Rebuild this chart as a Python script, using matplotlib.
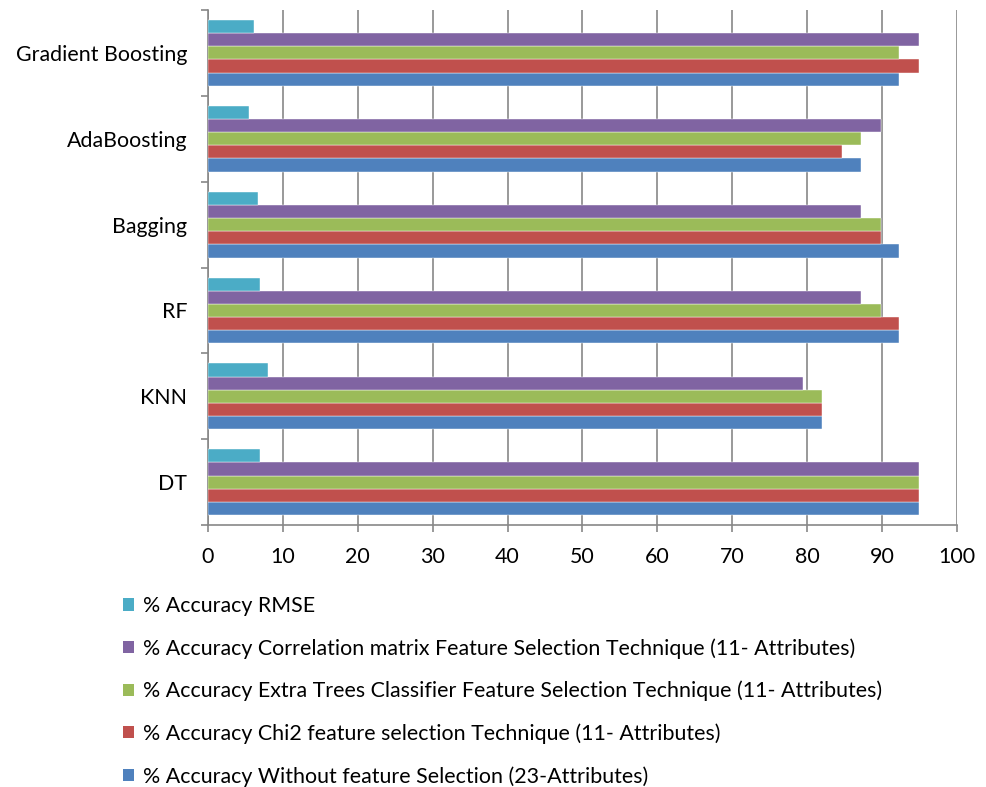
import numpy as np
import matplotlib.pyplot as plt
from matplotlib.patches import Patch

plt.rcParams['font.family'] = ['Lato', 'DejaVu Sans']

# ------------------------------
# Data
# ------------------------------
models = ['DT', 'KNN', 'RF', 'Bagging', 'AdaBoosting', 'Gradient Boosting']

acc_without = [94.9, 82.0, 92.3, 92.3, 87.2, 92.3]
acc_chi2 = [94.9, 82.0, 92.3, 89.8, 84.7, 94.9]
acc_extra_trees = [94.9, 82.0, 89.8, 89.8, 87.2, 92.3]
acc_corr = [94.9, 79.5, 87.2, 87.2, 89.8, 94.9]
rmse = [6.9, 8.0, 7.0, 6.7, 5.5, 6.1]

series_labels = [
    '% Accuracy Without feature Selection (23-Attributes)',
    '% Accuracy Chi2 feature selection Technique (11- Attributes)',
    '% Accuracy Extra Trees Classifier Feature Selection Technique (11- Attributes)',
    '% Accuracy Correlation matrix Feature Selection Technique (11- Attributes)',
    '% Accuracy RMSE',
]
colors = ['#4F81BD', '#C0504D', '#9BBB59', '#8064A2', '#4BACC6']

# ------------------------------
# Plot
# ------------------------------
fs = 15.4
fig = plt.figure(figsize=(9.87, 7.87), dpi=100)
ax = fig.add_axes([0.2107, 0.3329, 0.7589, 0.6544])

all_series = [acc_without, acc_chi2, acc_extra_trees, acc_corr, rmse]
n = len(all_series)
bar_h = 0.767 / n
y = np.arange(len(models))

for i, (vals, col) in enumerate(zip(all_series, colors)):
    offs = (i - (n - 1) / 2) * bar_h
    ax.barh(y + offs, vals, height=bar_h, color=col, zorder=3,
            edgecolor='white', linewidth=0.3)

grid_col = '#878787'
ax.set_xlim(0, 100)
ax.set_ylim(-0.5, len(models) - 0.5)
ax.set_xticks(np.arange(0, 101, 10))
ax.xaxis.grid(True, color=grid_col, linewidth=1.2, zorder=0)

# category labels centred on groups, tick marks on group borders
ax.set_yticks(np.arange(-0.5, len(models), 1.0))
ax.set_yticklabels([])
ax.set_yticks(y, minor=True)
ax.set_yticklabels(models, minor=True)
ax.tick_params(axis='y', which='minor', length=0, pad=15, labelsize=fs)
ax.tick_params(axis='y', which='major', length=5, width=1.2, color=grid_col)
ax.tick_params(axis='x', length=5, width=1.2, color=grid_col, labelsize=fs, pad=11)

for side in ['top', 'right']:
    ax.spines[side].set_visible(False)
for side in ['left', 'bottom']:
    ax.spines[side].set_color(grid_col)
    ax.spines[side].set_linewidth(1.2)

# legend, RMSE on top
handles = [Patch(facecolor=c) for c in colors[::-1]]
fig.legend(handles, series_labels[::-1], loc='upper left',
           bbox_to_anchor=(0.116, 0.2535), frameon=False, fontsize=fs,
           handlelength=0.5, handleheight=0.5, handletextpad=0.45,
           labelspacing=1.03, borderaxespad=0)

fig.savefig('out.png', dpi=100)
